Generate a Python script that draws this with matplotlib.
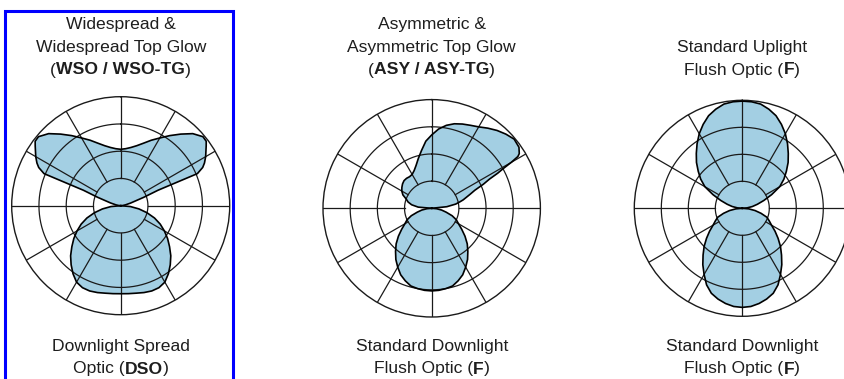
import numpy as np
import matplotlib
matplotlib.use("Agg")
import matplotlib.pyplot as plt
from matplotlib.lines import Line2D

# Lobe profiles.
# Angles in degrees from the lobe axis, radii in grid rings (outer ring = 4).
half_angles = [0, 5, 10, 15, 20, 25, 30, 35, 40, 45, 50, 55, 60, 65, 70, 75, 80, 85, 90]

# WSO / WSO-TG top glow (bat wing), measured from straight up
wso_angles = [0, 5, 10, 15, 20, 25, 30, 35, 40, 45, 50, 53, 55, 60, 63, 65, 67.3, 67.5, 70, 75, 80, 85, 90]
wso_radii = [2.07, 2.1, 2.17, 2.28, 2.44, 2.65, 2.87, 3.14, 3.43, 3.74, 3.94, 3.93, 3.83, 3.6, 3.45,
             3.32, 3.05, 1.48, 0.9, 0.38, 0.18, 0.07, 0]

# DSO downlight spread, measured from straight down
dso_radii = [3.23, 3.24, 3.26, 3.3, 3.33, 3.32, 3.24, 3.05, 2.83, 2.6, 2.34, 2.1, 1.85, 1.6, 1.32,
             1.0, 0.68, 0.36, 0]

# ASY / ASY-TG asymmetric top glow, measured from straight up (negative = left)
asy_angles = [-90, -85, -80, -75, -70, -65, -60, -55, -50, -45, -40, -35, -30, -25, -20, -15, -10, -5,
              0, 5, 10, 15, 20, 25, 30, 35, 40, 45, 50, 55, 58, 59, 60, 61, 62, 63.2, 65, 67.3, 70, 75,
              77, 80, 84, 90]
asy_radii = [0, 0.5, 0.75, 0.9, 1.0, 1.17, 1.27, 1.34, 1.4, 1.44, 1.44, 1.42, 1.44, 1.53, 1.68, 1.9,
             2.16, 2.48, 2.7, 2.93, 3.1, 3.22, 3.3, 3.37, 3.46, 3.6, 3.74, 3.86, 3.96, 3.92, 3.8, 3.7,
             3.38, 3.0, 2.75, 2.38, 2.1, 1.72, 1.5, 1.2, 1.07, 0.9, 0.56, 0]

# Standard downlight flush optic under the ASY diagram, from straight down
asy_down_radii = [3.04, 3.03, 3.0, 2.96, 2.84, 2.7, 2.5, 2.3, 2.07, 1.85, 1.6, 1.35, 1.14, 1.0, 0.8,
                  0.55, 0.37, 0.18, 0]

# Standard uplight flush optic, from straight up
f_up_radii = [3.97, 3.96, 3.92, 3.8, 3.65, 3.43, 3.19, 2.92, 2.65, 2.4, 2.13, 1.88, 1.6, 1.2, 0.85,
              0.58, 0.38, 0.18, 0]

# Standard downlight flush optic, from straight down
f_down_radii = [3.67, 3.65, 3.58, 3.48, 3.35, 3.13, 2.83, 2.55, 2.26, 2.0, 1.73, 1.48, 1.25, 1.1, 0.97,
                0.72, 0.48, 0.24, 0]

top_labels = [
    [[("Widespread &", "normal")], [("Widespread Top Glow", "normal")],
     [("(", "normal"), ("WSO / WSO-TG", "bold"), (")", "normal")]],
    [[("Asymmetric &", "normal")], [("Asymmetric Top Glow", "normal")],
     [("(", "normal"), ("ASY / ASY-TG", "bold"), (")", "normal")]],
    [[("Standard Uplight", "normal")],
     [("Flush Optic (", "normal"), ("F", "bold"), (")", "normal")]],
]
bottom_labels = [
    [[("Downlight Spread", "normal")], [("Optic (", "normal"), ("DSO", "bold"), (")", "normal")]],
    [[("Standard Downlight", "normal")], [("Flush Optic (", "normal"), ("F", "bold"), (")", "normal")]],
    [[("Standard Downlight", "normal")], [("Flush Optic (", "normal"), ("F", "bold"), (")", "normal")]],
]

W, H = 844, 379
FILL = "#a3cfe3"
FONT = "Liberation Sans"
TXT = "#1e1e1e"


def mirror(angles, radii):
    """Lobe symmetric about its axis: from -90 to +90 degrees."""
    a = np.asarray(angles, dtype=float)
    r = np.asarray(radii, dtype=float)
    return np.concatenate([-a[::-1], a[1:]]), np.concatenate([r[::-1], r[1:]])


def draw_panel(fig, cx, cy, R, up, down):
    ax = fig.add_axes([(cx - R) / W, 1 - (cy + R) / H, 2 * R / W, 2 * R / H], projection="polar")
    ax.set_theta_zero_location("N")
    ax.set_theta_direction(-1)

    for ang, rad, offset in [(up[0], up[1], 0), (down[0], down[1], 180)]:
        th = np.radians(np.asarray(ang) + offset)
        ax.fill(th, rad, color=FILL, lw=0, zorder=1)
        ax.plot(th, rad, color="black", lw=1.2, zorder=3)

    t = np.linspace(0, 2 * np.pi, 361)
    for k in (1, 2, 3):
        ax.plot(t, np.full_like(t, k), color="#1a1a1a", lw=0.9, zorder=2)
    for a in range(0, 360, 30):
        ax.plot([np.radians(a)] * 2, [1, 4], color="#1a1a1a", lw=0.9, zorder=2)

    ax.set_ylim(0, 4)
    ax.set_xticks([])
    ax.set_yticks([])
    ax.grid(False)
    ax.spines["polar"].set_linewidth(1.0)
    ax.spines["polar"].set_color("#1a1a1a")
    return ax


def centered_line(fig, x, y, parts):
    renderer = fig.canvas.get_renderer()
    items = []
    for s, weight in parts:
        txt = fig.text(0, 1 - y / H, s, fontsize=12.6, fontweight=weight, family=FONT,
                       color=TXT, va="baseline", ha="left")
        items.append((txt, txt.get_window_extent(renderer).width))
    left = x - sum(w for _, w in items) / 2
    for txt, w in items:
        txt.set_x(left / W)
        left += w


fig = plt.figure(figsize=(W / 100, H / 100), dpi=100)

panels = [
    (120.7, 205.7, 109.0, (wso_angles, wso_radii), (half_angles, dso_radii)),
    (431.7, 208.3, 108.7, (asy_angles, asy_radii), (half_angles, asy_down_radii)),
    (742.3, 208.3, 108.0, (half_angles, f_up_radii), (half_angles, f_down_radii)),
]

for i, (cx, cy, R, up, down) in enumerate(panels):
    up_a, up_r = up
    if up_a[0] >= 0:
        up_a, up_r = mirror(up_a, up_r)
    dn_a, dn_r = mirror(*down)
    draw_panel(fig, cx, cy, R, (up_a, up_r), (dn_a, dn_r))

    tops = top_labels[i]
    base = [29, 52, 74.5][3 - len(tops):]
    for line, y in zip(tops, base):
        centered_line(fig, cx, y, line)
    for line, y in zip(bottom_labels[i], [351.3, 373.5]):
        centered_line(fig, cx, y, line)

# blue highlight frame around the first diagram
bx = [4.5, 4.5, 233.0, 233.0]
by = [385, 11, 11, 385]
fig.add_artist(Line2D([v / W for v in bx], [1 - v / H for v in by], transform=fig.transFigure,
                      color="#0000ff", lw=2.2, solid_joinstyle="miter"))

fig.savefig("out.png", dpi=100)
